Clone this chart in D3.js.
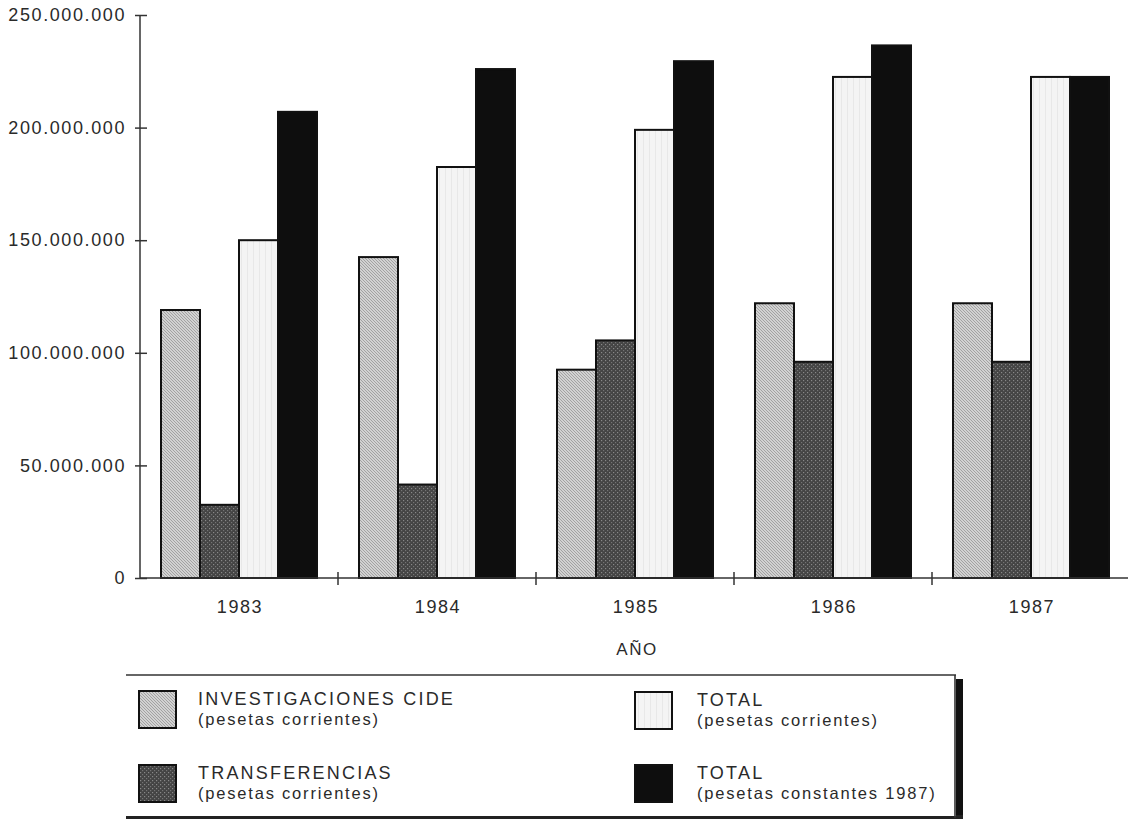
<!DOCTYPE html>
<html>
<head>
<meta charset="utf-8">
<script src="https://cdn.jsdelivr.net/npm/d3@7"></script>
<style>
  html, body { margin: 0; padding: 0; background: #fff; }
  svg { display: block; }
  text { font-family: "Liberation Sans", Arial, Helvetica, sans-serif; fill: #2a2a2a; }
</style>
</head>
<body>
<svg id="chart" width="1128" height="821"></svg>
<script>
// ---- data ----
const years = ["1983", "1984", "1985", "1986", "1987"];
const seriesKeys = ["investigaciones", "transferencias", "totalCorrientes", "totalConstantes"];
const investigaciones = [119000000, 142500000, 92500000, 122000000, 122000000];
const transferencias  = [32500000, 41500000, 105500000, 96000000, 96000000];
const totalCorrientes = [150000000, 182500000, 199000000, 222500000, 222500000];
const totalConstantes = [207000000, 226000000, 229500000, 236500000, 222500000];
const yTicks = [0, 50000000, 100000000, 150000000, 200000000, 250000000];
const legendTitles = ["INVESTIGACIONES CIDE", "TRANSFERENCIAS", "TOTAL", "TOTAL"];
const legendSubs = ["(pesetas corrientes)", "(pesetas corrientes)", "(pesetas corrientes)", "(pesetas constantes 1987)"];
const xTitle = "AÑO";

const valuesByKey = {
  investigaciones, transferencias, totalCorrientes, totalConstantes
};
const rows = years.map((y, i) => ({
  year: y,
  vals: seriesKeys.map(k => ({ key: k, value: valuesByKey[k][i] }))
}));

const svg = d3.select("#chart");

// ---- patterns ----
const defs = svg.append("defs");
const p1 = defs.append("pattern").attr("id", "pInv").attr("patternUnits", "userSpaceOnUse")
  .attr("width", 3).attr("height", 3);
p1.append("rect").attr("width", 3).attr("height", 3).attr("fill", "#d2d2d2");
p1.append("path").attr("d", "M-1,-1 L4,4 M-1,2 L1,4 M2,-1 L4,1").attr("stroke", "#959595").attr("stroke-width", 0.8);

const p2 = defs.append("pattern").attr("id", "pTra").attr("patternUnits", "userSpaceOnUse")
  .attr("width", 4).attr("height", 4);
p2.append("rect").attr("width", 4).attr("height", 4).attr("fill", "#444");
p2.append("rect").attr("x", 0).attr("y", 0).attr("width", 1.2).attr("height", 1.2).attr("fill", "#888");
p2.append("rect").attr("x", 2).attr("y", 2).attr("width", 1.2).attr("height", 1.2).attr("fill", "#747474");

const p3 = defs.append("pattern").attr("id", "pTot").attr("patternUnits", "userSpaceOnUse")
  .attr("width", 6).attr("height", 6);
p3.append("rect").attr("width", 6).attr("height", 6).attr("fill", "#f4f4f4");
p3.append("rect").attr("x", 2).attr("width", 1).attr("height", 6).attr("fill", "#e8e8e8");

const fills = {
  investigaciones: "url(#pInv)",
  transferencias: "url(#pTra)",
  totalCorrientes: "url(#pTot)",
  totalConstantes: "#0e0e0e"
};

// ---- scales ----
const x0 = d3.scaleBand().domain(years).range([140, 1130]).padding(0);
const groupW = 156;
const x1 = d3.scaleBand().domain(seriesKeys).range([0, groupW]).padding(0);
const y = d3.scaleLinear().domain([0, 250000000]).range([578, 15]);

const locale = d3.formatLocale({ decimal: ",", thousands: ".", grouping: [3], currency: ["", " pts"] });
const fmt = locale.format(",");

// ---- bars ----
const g = svg.append("g");
const groups = g.selectAll("g.grp").data(rows).join("g")
  .attr("class", "grp")
  .attr("transform", d => `translate(${x0(d.year) + x0.bandwidth() / 2 - groupW / 2},0)`);
groups.selectAll("rect").data(d => d.vals).join("rect")
  .attr("x", d => x1(d.key))
  .attr("y", d => y(d.value))
  .attr("width", x1.bandwidth())
  .attr("height", d => y(0) - y(d.value))
  .attr("fill", d => fills[d.key])
  .attr("stroke", "#111")
  .attr("stroke-width", 2);

// ---- y axis ----
const yAxis = d3.axisLeft(y).tickValues(yTicks).tickFormat(fmt).tickSize(5).tickPadding(9);
const ya = svg.append("g").attr("transform", "translate(140,0)").call(yAxis);
ya.select(".domain").attr("stroke", "#333").attr("stroke-width", 1.5).attr("d", `M0,${y(250000000)}V${y(0)}`);
ya.selectAll(".tick line").attr("stroke", "#333").attr("stroke-width", 1.5).attr("x1", 7).attr("x2", -5);
ya.selectAll(".tick text")
  .style("font-family", '"Liberation Sans", Arial, sans-serif')
  .style("font-size", "18px").style("letter-spacing", "1.6px")
  .attr("fill", "#3a3a3a");

// ---- x axis ----
const xa = svg.append("g").attr("transform", `translate(0,${y(0)})`);
xa.append("line").attr("x1", 140).attr("x2", 1128).attr("y1", 0).attr("y2", 0)
  .attr("stroke", "#333").attr("stroke-width", 1.5);
xa.selectAll("line.tk").data(years.slice(1)).join("line").attr("class", "tk")
  .attr("x1", d => x0(d)).attr("x2", d => x0(d)).attr("y1", -6).attr("y2", 7)
  .attr("stroke", "#333").attr("stroke-width", 1.5);
xa.selectAll("text.yl").data(years).join("text").attr("class", "yl")
  .attr("x", d => x0(d) + x0.bandwidth() / 2 + 1)
  .attr("y", 35)
  .attr("text-anchor", "middle")
  .style("font-size", "18px").style("letter-spacing", "1.6px")
  .attr("fill", "#3a3a3a")
  .text(d => d);

svg.append("text").attr("x", 637).attr("y", 655).attr("text-anchor", "middle")
  .style("font-size", "17px").style("letter-spacing", "1.5px").attr("fill", "#3a3a3a")
  .text(xTitle);

// ---- legend ----
const lg = svg.append("g");
// shadow
lg.append("rect").attr("x", 954).attr("y", 679).attr("width", 9).attr("height", 140).attr("fill", "#111");
lg.append("rect").attr("x", 126).attr("y", 815).attr("width", 837).attr("height", 4).attr("fill", "#222");
lg.append("rect").attr("x", 126).attr("y", 675).attr("width", 830).attr("height", 141)
  .attr("fill", "#fff").attr("stroke", "none");
lg.append("line").attr("x1", 126).attr("x2", 956).attr("y1", 675).attr("y2", 675)
  .attr("stroke", "#333").attr("stroke-width", 1.6);
lg.append("line").attr("x1", 955).attr("x2", 955).attr("y1", 675).attr("y2", 818)
  .attr("stroke", "#333").attr("stroke-width", 1.6);

const legendPos = [
  { sx: 139, sy: 691, tx: 198 },
  { sx: 139, sy: 765, tx: 198 },
  { sx: 635, sy: 692, tx: 697 },
  { sx: 635, sy: 765, tx: 697 }
];
const items = lg.selectAll("g.li").data(seriesKeys).join("g").attr("class", "li");
items.append("rect")
  .attr("x", (d, i) => legendPos[i].sx).attr("y", (d, i) => legendPos[i].sy)
  .attr("width", 37).attr("height", 37)
  .attr("fill", d => fills[d]).attr("stroke", "#111").attr("stroke-width", 2);
items.append("text")
  .attr("x", (d, i) => legendPos[i].tx).attr("y", (d, i) => legendPos[i].sy + 14)
  .style("font-size", "18px").style("letter-spacing", "2.2px").attr("fill", "#2a2a2a")
  .text((d, i) => legendTitles[i]);
items.append("text")
  .attr("x", (d, i) => legendPos[i].tx).attr("y", (d, i) => legendPos[i].sy + 34)
  .style("font-size", "16.5px").style("letter-spacing", "1.8px").attr("fill", "#2a2a2a")
  .text((d, i) => legendSubs[i]);
</script>
</body>
</html>
